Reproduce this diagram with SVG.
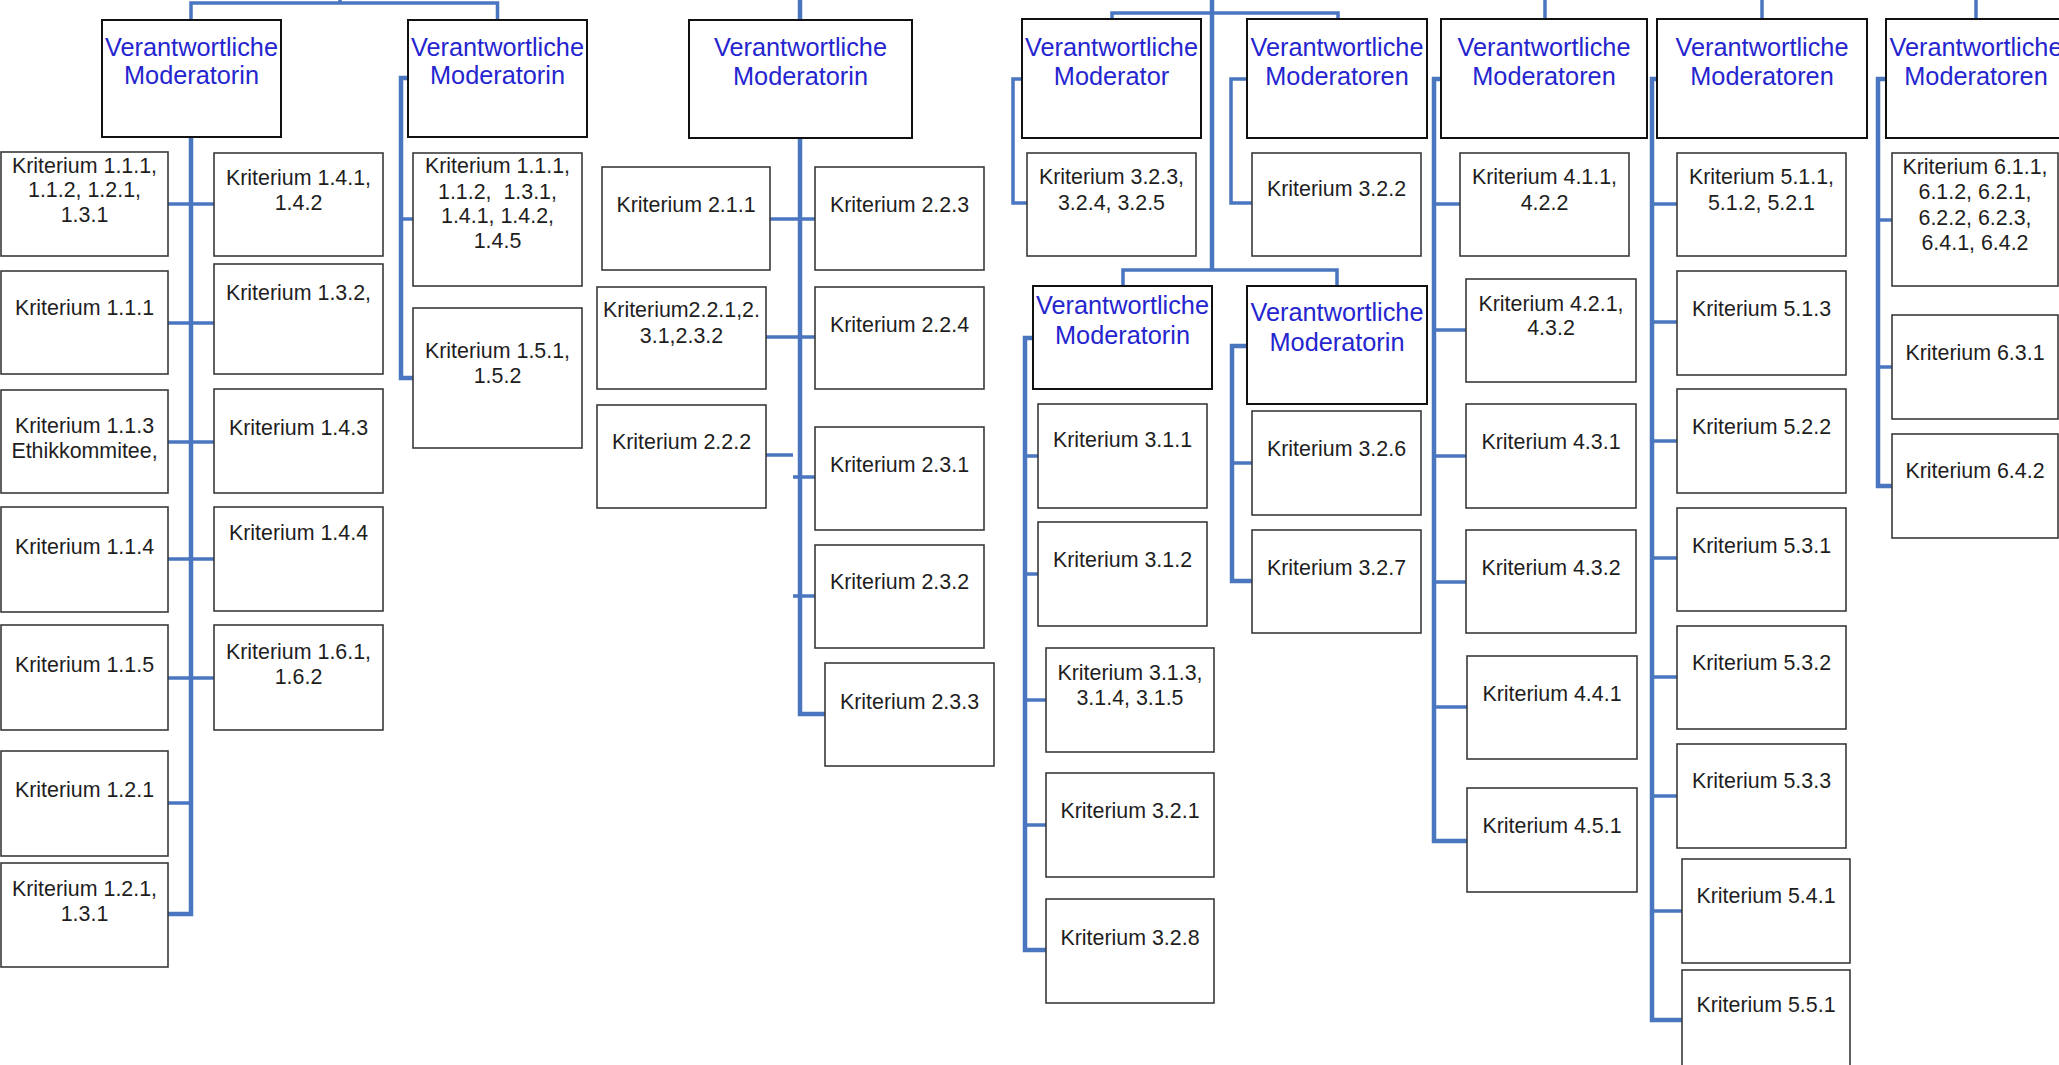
<svg xmlns="http://www.w3.org/2000/svg" width="2059" height="1065" viewBox="0 0 2059 1065">
<style>
.bg{fill:#ffffff}
.hdr rect{fill:#ffffff;stroke:#111111;stroke-width:2}
.krit rect{fill:#ffffff;stroke:#3a3a3a;stroke-width:1.6}
.hdr text{font-family:"Liberation Sans",Arial,sans-serif;font-size:25.3px;fill:#2525cf;text-anchor:middle}
.krit text{font-family:"Liberation Sans",Arial,sans-serif;font-size:21.4px;fill:#1e1e1e;text-anchor:middle;white-space:pre}
#connectors path{fill:none;stroke:#4a76c0;stroke-width:3.5;stroke-linejoin:miter}
#connectors path.trunk{stroke-width:4.5}
</style>
<rect class="bg" x="0" y="0" width="2059" height="1065"/>

<g id="connectors">
  <!-- column 1 -->
  <path d="M340,0 V3"/>
  <path d="M191,20 V3 H497.5 V20"/>
  <path class="trunk" d="M191,137 V914 H168"/>
  <path d="M168,204 H214 M168,323 H214 M168,442 H214 M168,559 H214 M168,678 H214 M168,803 H191"/>
  <path class="trunk" d="M408,78 H401 V378 H413"/>
  <path d="M401,219 H413"/>
  <!-- column 2 -->
  <path class="trunk" d="M800,0 V20 M800,138 V714 H825"/>
  <path d="M770,219 H815 M766,337 H815 M766,455 H793 M793,477 H815 M793,596 H815"/>
  <!-- column 3 -->
  <path class="trunk" d="M1212,0 V270"/>
  <path d="M1112,19 V13 H1338 V19"/>
  <path d="M1022,79 H1013 V203 H1027"/>
  <path d="M1247,79 H1231 V203 H1252"/>
  <path d="M1123,286 V270 H1337 V286"/>
  <path class="trunk" d="M1033,338 H1025 V950 H1046"/>
  <path d="M1025,456 H1038 M1025,574 H1038 M1025,700 H1046 M1025,825 H1046"/>
  <path class="trunk" d="M1247,346 H1232 V581 H1252"/>
  <path d="M1232,463 H1252"/>
  <!-- column 4 -->
  <path d="M1545,0 V19"/>
  <path class="trunk" d="M1441,79 H1434 V841 H1467"/>
  <path d="M1434,204 H1460 M1434,330 H1466 M1434,456 H1466 M1434,582 H1466 M1434,707 H1467"/>
  <!-- column 5 -->
  <path d="M1762,0 V19"/>
  <path class="trunk" d="M1657,79 H1652 V1020 H1682"/>
  <path d="M1652,204 H1677 M1652,322 H1677 M1652,441 H1677 M1652,558 H1677 M1652,677 H1677 M1652,796 H1677 M1652,911 H1682"/>
  <!-- column 6 -->
  <path d="M1976,0 V19"/>
  <path class="trunk" d="M1886,79 H1878 V486 H1892"/>
  <path d="M1878,220 H1892 M1878,367 H1892"/>
</g>

<!-- Column 1 -->
<g id="mod1a" class="hdr"><rect x="102" y="20" width="179" height="117"/><text x="191.5" y="56">Verantwortliche</text><text x="191.5" y="84">Moderatorin</text></g>
<g id="mod1b" class="hdr"><rect x="408" y="20" width="179" height="117"/><text x="497.5" y="56">Verantwortliche</text><text x="497.5" y="84">Moderatorin</text></g>

<g id="k1l1" class="krit"><rect x="1" y="152" width="167" height="104"/><text x="84.5" y="173">Kriterium 1.1.1,</text><text x="84.5" y="197">1.1.2, 1.2.1,</text><text x="84.5" y="222">1.3.1</text></g>
<g id="k1l2" class="krit"><rect x="1" y="271" width="167" height="103"/><text x="84.5" y="315">Kriterium 1.1.1</text></g>
<g id="k1l3" class="krit"><rect x="1" y="390" width="167" height="103"/><text x="84.5" y="433">Kriterium 1.1.3</text><text x="84.5" y="458">Ethikkommitee,</text></g>
<g id="k1l4" class="krit"><rect x="1" y="507" width="167" height="105"/><text x="84.5" y="554">Kriterium 1.1.4</text></g>
<g id="k1l5" class="krit"><rect x="1" y="625" width="167" height="105"/><text x="84.5" y="672">Kriterium 1.1.5</text></g>
<g id="k1l6" class="krit"><rect x="1" y="751" width="167" height="105"/><text x="84.5" y="797">Kriterium 1.2.1</text></g>
<g id="k1l7" class="krit"><rect x="1" y="863" width="167" height="104"/><text x="84.5" y="896">Kriterium 1.2.1,</text><text x="84.5" y="921">1.3.1</text></g>

<g id="k1r1" class="krit"><rect x="214" y="153" width="169" height="103"/><text x="298.5" y="185">Kriterium 1.4.1,</text><text x="298.5" y="210">1.4.2</text></g>
<g id="k1r2" class="krit"><rect x="214" y="264" width="169" height="110"/><text x="298.5" y="300">Kriterium 1.3.2,</text></g>
<g id="k1r3" class="krit"><rect x="214" y="389" width="169" height="104"/><text x="298.5" y="435">Kriterium 1.4.3</text></g>
<g id="k1r4" class="krit"><rect x="214" y="507" width="169" height="104"/><text x="298.5" y="540">Kriterium 1.4.4</text></g>
<g id="k1r5" class="krit"><rect x="214" y="625" width="169" height="105"/><text x="298.5" y="659">Kriterium 1.6.1,</text><text x="298.5" y="684">1.6.2</text></g>

<g id="k1b1" class="krit"><rect x="413" y="153" width="169" height="133"/><text x="497.5" y="173">Kriterium 1.1.1,</text><text x="497.5" y="199">1.1.2,  1.3.1,</text><text x="497.5" y="223">1.4.1, 1.4.2,</text><text x="497.5" y="248">1.4.5</text></g>
<g id="k1b2" class="krit"><rect x="413" y="308" width="169" height="140"/><text x="497.5" y="358">Kriterium 1.5.1,</text><text x="497.5" y="383">1.5.2</text></g>

<!-- Column 2 -->
<g id="mod2" class="hdr"><rect x="689" y="20" width="223" height="118"/><text x="800.5" y="56">Verantwortliche</text><text x="800.5" y="85">Moderatorin</text></g>
<g id="k211" class="krit"><rect x="602" y="167" width="168" height="103"/><text x="686" y="212">Kriterium 2.1.1</text></g>
<g id="k221" class="krit"><rect x="597" y="287" width="169" height="102"/><text x="681.5" y="317">Kriterium2.2.1,2.</text><text x="681.5" y="343">3.1,2.3.2</text></g>
<g id="k222" class="krit"><rect x="597" y="405" width="169" height="103"/><text x="681.5" y="449">Kriterium 2.2.2</text></g>
<g id="k223" class="krit"><rect x="815" y="167" width="169" height="103"/><text x="899.5" y="212">Kriterium 2.2.3</text></g>
<g id="k224" class="krit"><rect x="815" y="287" width="169" height="102"/><text x="899.5" y="332">Kriterium 2.2.4</text></g>
<g id="k231" class="krit"><rect x="815" y="427" width="169" height="103"/><text x="899.5" y="472">Kriterium 2.3.1</text></g>
<g id="k232" class="krit"><rect x="815" y="545" width="169" height="103"/><text x="899.5" y="589">Kriterium 2.3.2</text></g>
<g id="k233" class="krit"><rect x="825" y="663" width="169" height="103"/><text x="909.5" y="709">Kriterium 2.3.3</text></g>

<!-- Column 3 -->
<g id="mod3a" class="hdr"><rect x="1022" y="19" width="179" height="119"/><text x="1111.5" y="56">Verantwortliche</text><text x="1111.5" y="85">Moderator</text></g>
<g id="mod3b" class="hdr"><rect x="1247" y="19" width="180" height="119"/><text x="1337" y="56">Verantwortliche</text><text x="1337" y="85">Moderatoren</text></g>
<g id="k323" class="krit"><rect x="1027" y="153" width="169" height="103"/><text x="1111.5" y="184">Kriterium 3.2.3,</text><text x="1111.5" y="210">3.2.4, 3.2.5</text></g>
<g id="k322" class="krit"><rect x="1252" y="153" width="169" height="103"/><text x="1336.5" y="196">Kriterium 3.2.2</text></g>
<g id="mod3c" class="hdr"><rect x="1033" y="286" width="179" height="103"/><text x="1122.5" y="314">Verantwortliche</text><text x="1122.5" y="344">Moderatorin</text></g>
<g id="mod3d" class="hdr"><rect x="1247" y="286" width="180" height="118"/><text x="1337" y="321">Verantwortliche</text><text x="1337" y="351">Moderatorin</text></g>
<g id="k311" class="krit"><rect x="1038" y="404" width="169" height="104"/><text x="1122.5" y="447">Kriterium 3.1.1</text></g>
<g id="k312" class="krit"><rect x="1038" y="522" width="169" height="104"/><text x="1122.5" y="567">Kriterium 3.1.2</text></g>
<g id="k313" class="krit"><rect x="1046" y="648" width="168" height="104"/><text x="1130" y="680">Kriterium 3.1.3,</text><text x="1130" y="705">3.1.4, 3.1.5</text></g>
<g id="k321" class="krit"><rect x="1046" y="773" width="168" height="104"/><text x="1130" y="818">Kriterium 3.2.1</text></g>
<g id="k328" class="krit"><rect x="1046" y="899" width="168" height="104"/><text x="1130" y="945">Kriterium 3.2.8</text></g>
<g id="k326" class="krit"><rect x="1252" y="411" width="169" height="104"/><text x="1336.5" y="456">Kriterium 3.2.6</text></g>
<g id="k327" class="krit"><rect x="1252" y="530" width="169" height="103"/><text x="1336.5" y="575">Kriterium 3.2.7</text></g>

<!-- Column 4 -->
<g id="mod4" class="hdr"><rect x="1441" y="19" width="206" height="119"/><text x="1544" y="56">Verantwortliche</text><text x="1544" y="85">Moderatoren</text></g>
<g id="k411" class="krit"><rect x="1460" y="153" width="169" height="103"/><text x="1544.5" y="184">Kriterium 4.1.1,</text><text x="1544.5" y="210">4.2.2</text></g>
<g id="k421" class="krit"><rect x="1466" y="279" width="170" height="103"/><text x="1551" y="311">Kriterium 4.2.1,</text><text x="1551" y="335">4.3.2</text></g>
<g id="k431" class="krit"><rect x="1466" y="404" width="170" height="104"/><text x="1551" y="449">Kriterium 4.3.1</text></g>
<g id="k432" class="krit"><rect x="1466" y="530" width="170" height="103"/><text x="1551" y="575">Kriterium 4.3.2</text></g>
<g id="k441" class="krit"><rect x="1467" y="656" width="170" height="103"/><text x="1552" y="701">Kriterium 4.4.1</text></g>
<g id="k451" class="krit"><rect x="1467" y="788" width="170" height="104"/><text x="1552" y="833">Kriterium 4.5.1</text></g>

<!-- Column 5 -->
<g id="mod5" class="hdr"><rect x="1657" y="19" width="210" height="119"/><text x="1762" y="56">Verantwortliche</text><text x="1762" y="85">Moderatoren</text></g>
<g id="k511" class="krit"><rect x="1677" y="153" width="169" height="103"/><text x="1761.5" y="184">Kriterium 5.1.1,</text><text x="1761.5" y="210">5.1.2, 5.2.1</text></g>
<g id="k513" class="krit"><rect x="1677" y="271" width="169" height="104"/><text x="1761.5" y="316">Kriterium 5.1.3</text></g>
<g id="k522" class="krit"><rect x="1677" y="389" width="169" height="104"/><text x="1761.5" y="434">Kriterium 5.2.2</text></g>
<g id="k531" class="krit"><rect x="1677" y="508" width="169" height="103"/><text x="1761.5" y="553">Kriterium 5.3.1</text></g>
<g id="k532" class="krit"><rect x="1677" y="626" width="169" height="103"/><text x="1761.5" y="670">Kriterium 5.3.2</text></g>
<g id="k533" class="krit"><rect x="1677" y="744" width="169" height="104"/><text x="1761.5" y="788">Kriterium 5.3.3</text></g>
<g id="k541" class="krit"><rect x="1682" y="859" width="168" height="104"/><text x="1766" y="903">Kriterium 5.4.1</text></g>
<g id="k551" class="krit"><rect x="1682" y="970" width="168" height="110"/><text x="1766" y="1012">Kriterium 5.5.1</text></g>

<!-- Column 6 -->
<g id="mod6" class="hdr"><rect x="1886" y="19" width="180" height="119"/><text x="1976" y="56">Verantwortliche</text><text x="1976" y="85">Moderatoren</text></g>
<g id="k611" class="krit"><rect x="1892" y="153" width="166" height="133"/><text x="1975" y="174">Kriterium 6.1.1,</text><text x="1975" y="199">6.1.2, 6.2.1,</text><text x="1975" y="225">6.2.2, 6.2.3,</text><text x="1975" y="250">6.4.1, 6.4.2</text></g>
<g id="k631" class="krit"><rect x="1892" y="315" width="166" height="104"/><text x="1975" y="360">Kriterium 6.3.1</text></g>
<g id="k642" class="krit"><rect x="1892" y="434" width="166" height="104"/><text x="1975" y="478">Kriterium 6.4.2</text></g>
</svg>
